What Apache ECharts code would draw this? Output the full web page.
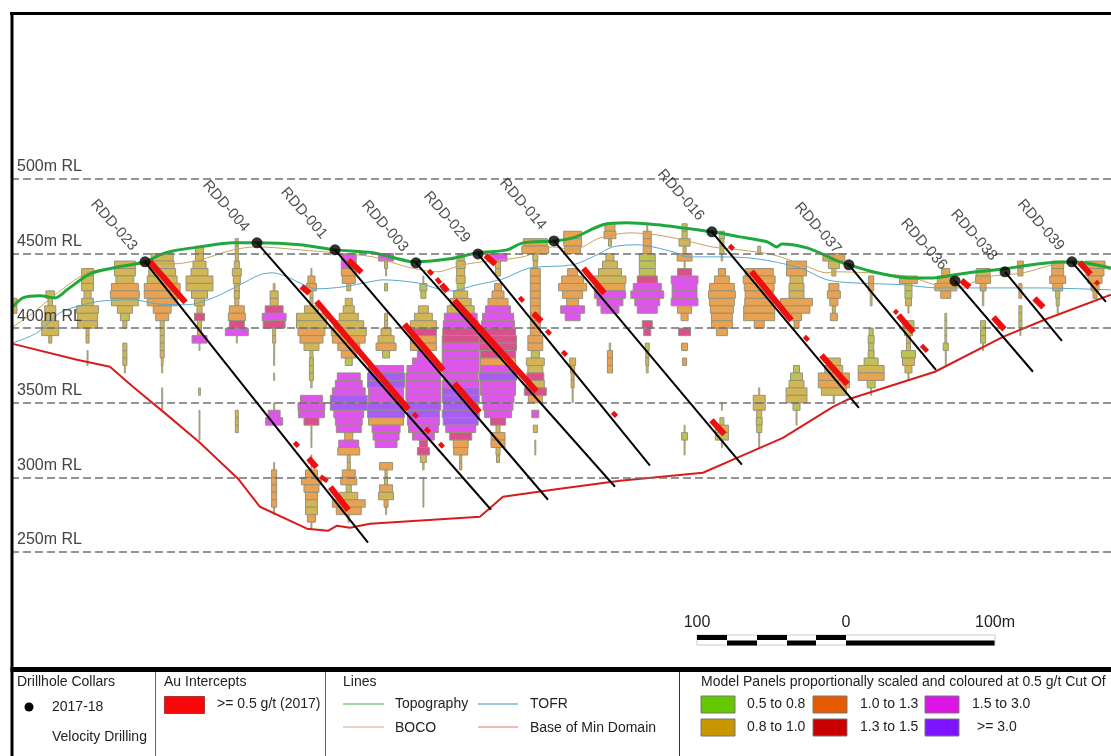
<!DOCTYPE html>
<html><head><meta charset="utf-8"><style>html,body{margin:0;background:#fff}#c{width:1111px;height:756px}</style>
<script src="https://cdn.jsdelivr.net/npm/echarts@6/dist/echarts.min.js"></script></head><body><div id="c"></div>
<script>
const rlLevels=[500,450,400,350,300,250];
const holeNames=['RDD-023','RDD-004','RDD-001','RDD-003','RDD-029','RDD-014','RDD-016','RDD-037','RDD-036','RDD-038','RDD-039'];
const holeCollars=[[88.5,444.5],[163.5,457.2],[215.8,452.5],[270,443.8],[311.6,449.8],[362.5,458.5],[468.3,464.6],[560.1,442.5],[631.2,431.7],[664.7,437.8],[709.5,444.5]];
const holeEnds=[[237.9,256.2],[320.3,278.3],[358.5,285],[403.4,293.7],[426.8,307.8],[488.4,308.5],[566.8,346.6],[618.4,372.1],[683.4,370.8],[702.8,391.5],[732.3,417.7]];
const intercepts=[[90.5,443.8,114.6,416.3],[192.3,427,197.7,422.4],[202.4,417,264,344.6],[267.3,341.9,270,339.3],[275.4,331.9,278.1,329.2],[284.8,321.9,287.4,319.2],[187.6,322.5,190.3,319.8],[197,311.8,202.4,305.8],[205,299.7,209.7,296.4],[211.7,292.4,223.8,277],[223.8,444.5,232.5,436.4],[261.3,401.6,287.4,370.8],[294.8,362,311.6,342.6],[277.4,437.8,280.1,435.1],[282.8,432.4,285.4,429],[286.1,428.4,290.1,423.7],[294.8,417.7,349.8,356.7],[315.6,447.8,322.3,441.8],[338.4,419.7,341,417],[347.7,408.9,353.1,403.6],[356.5,397.6,359.1,394.9],[367.2,383.5,369.9,380.8],[400.7,342.6,403.4,339.9],[381.2,439.1,395.3,422.4],[467,337.3,475.7,327.9],[479.1,454.5,481.7,451.8],[493.8,437.1,520.6,404.3],[529.3,393.5,532,390.9],[540.7,380.8,558.1,361.4],[589.6,410.9,591.6,408.9],[592.3,407.6,602.3,396.2],[607.7,387.5,611.7,383.5],[634.5,431.1,639.9,426.4],[655.9,406.3,663.3,398.2],[683.4,419,689.4,413],[713.6,443.1,721,435.1],[724.3,430.4,726.3,428.4]];
const topography=[[0,414.3],[6.7,420.3],[18.1,421.7],[28.2,420.3],[36.2,425.7],[51.6,436.4],[67,440.4],[88.5,444.5],[98.5,449.2],[107.2,451.8],[125.3,454.5],[147.4,457.2],[163.5,457.2],[192.3,455.9],[215.8,452.5],[241.2,450.5],[264,445.1],[270,444.5],[292.8,446.5],[311.6,450.5],[331,452.5],[341.7,457.2],[362.5,458.5],[375.2,460.5],[395.3,469.3],[411.4,470.6],[431.5,469.3],[448.9,467.2],[468.3,464.6],[487.1,461.2],[505.2,457.9],[511.9,454.5],[515.2,456.5],[532,453.8],[554.1,444.5],[560.1,442.5],[576.2,437.8],[601,433.7],[616.4,433.7],[631.2,435.8],[645.9,437.8],[664.7,439.8],[686.1,443.1],[709.5,444.5],[735.7,440.4]];
const boco=[[0,400.9],[13.4,410.3],[28.2,422.4],[49.6,437.1],[67,440.4],[88.5,443.1],[107.2,443.1],[125.3,445.8],[147.4,452.5],[163.5,454.5],[192.3,452.5],[215.8,450.5],[241.2,447.8],[264,441.1],[284.1,437.8],[301.5,442.5],[319.6,445.1],[341.7,447.8],[361.8,454.5],[375.2,452.5],[393.3,460.5],[413.4,463.9],[431.5,462.5],[448.9,459.2],[468.3,454.5],[487.1,452.5],[509.2,449.2],[529.3,442.5],[545.4,437.1],[549.4,437.8],[574.2,437.1],[601,434.4],[617.8,429.1],[629.8,427.7],[639.2,429.1],[652.6,434.4],[676.7,437.1],[696.8,442.5],[709.5,443.8],[735.7,439.1]];
const tofr=[[0,390.2],[16.1,396.9],[31.5,410.3],[47,415.7],[60.3,418.3],[80.4,419],[96.5,416.3],[116.6,415.7],[134,420.3],[152.1,429.1],[165.5,435.8],[174.2,437.1],[183.6,434.4],[203.7,426.4],[221.1,427.7],[239.2,431.1],[247.9,432.4],[270.7,430.4],[292.8,425],[310.9,429.1],[328.3,433.1],[346.4,440.4],[375.2,442.5],[391.3,449.2],[402,454.5],[418.1,455.9],[442.2,451.2],[451.6,447.8],[473.7,447.8],[498.5,446.5],[527.3,440.4],[545.4,432.4],[562.8,430.4],[596.3,429.1],[619.1,427],[686.1,427],[735.7,425.7]];
const baseOfMin=[[0,389.5],[42.9,378.8],[65,374.1],[80.4,360.7],[103.2,341.9],[125.3,323.2],[150.8,299.1],[165.5,280.3],[197,265.6],[211.1,264.2],[217.1,267.6],[225.8,266.2],[239.2,268.9],[312.9,273.6],[328.3,287],[366.5,292.4],[406.7,297.7],[462.3,303.1],[485.1,313.1],[515.9,326.5],[549.4,347.3],[558.8,352],[617.8,370.8],[663.3,394.2],[692.8,406.3],[735.7,422.4]];
// Each column: stacks of [top RL, panel widths (m), grade letters]; every panel spans 5 m
const c000=[[420,[5.4,5.4],'gg']];
const c025=[[425,[5.8,3,7.4,7.4,11.4,11.4,2],'ggggggg']];
const c050=[[440,[8,8,8,4.7,8,14.7,13.4,13.4,2,2],'gggggggggg'],[385,[.7,.7],'gg']];
const c075=[[445,[14,14,12,18,19.4,18,10,6,2.7],'gggoogglg'],[390,[2.7,2.7,2.7,.7],'gggg']];
const c100=[[450,[14.7,16,18,20,24,24,20,12,8.7,2.7,2.7,2.7,2.7,2.7,1.3,.7],'ggggoooooggggggg'],[360,[.7,.7,.7],'ggg']];
const c125=[[455,[5.4,5.4,8.7,11.4,18,18,10.7,6.7,3.4,6.7,2.7,2.7,10,.7],'gggggggggpgomg'],[360,[1.3],'g'],[345,[.7,.7,.7,.7],'gggg']];
const c150=[[460,[2,2,2,3.4,6,4.7,3.4,3.4,2.7,10,11.4,10,15.4,.7],'gggggggggoopmg'],[345,[2,2,2],'ggg']];
const c175=[[430,[1.3,5.4,5.4,12,16,14.7,2,2,.7,.7,.7],'gggpmpggggg'],[370,[.7],'g'],[350,[.7,8,11.4],'gmm'],[310,[.7,3.4,3.4,3.4,3.4,3.4,.7],'ooooooo']];
const c200=[[440,[.7,4.7,6.7,2,2,9.4,20,20,18,15.4,10,2,2.7,2.7,2.7,1],'ooogggggooggllll'],[355,[14.7,18,17.4,10,.7,.7,.7],'mmmpggg'],[315,[.7,.7],'gg'],[305,[8,13.4,10,8,8,8,5.4,.7],'ooooggoo']];
const c225=[[450,[10,10,10,8.7,2.7],'mmoog'],[420,[4.7,7.4,12.7,20,23.4,22,14.7,10,4.7],'gggggoool'],[370,[15.4,18,22,24.8,24.8,20,18,16.7,5.4,13.4,14.7,2,2],'mmmvvmmmomogg'],[305,[8.7,10.7,3.4,12,22,16.7,1],'oolgoog']];
const c250=[[450,[10,2,.7],'mgg'],[430,[2],'l'],[410,[2,2,6.7,10.7,13.4,4.7],'ggggol'],[375,[23.4,24.8,24.8,23.4,23.4,24.8,24.8,23.4,18.8,17.4,14.7],'mvvmmvvommm'],[310,[8.7,1.5,2,8.7,10,2.7,.7],'oglogog']];
const c275=[[435,[.7,4.7,3.4],'gll'],[415,[6.7,12,17.4,17.4,17.4,17.4,8,14.7,22,23.4,23.4,23.4,23.4,23.4,21.4,21.4,20,14.7,5.4,8,4,1],'gggpoommmmmmmvvmmmppgg'],[300,[.7,.7,.7,.7],'gggg']];
const c300=[[450,[4.7,6,5.4,6,4.7,9.4,14,18,22,23.4,24,24.8,24.8,24.8,24.8,24.8,23.4,24.8,24.8,24.8,23.4,24.8,23.4,20,14.7,10,9.4,1.5,1.5],'gggglgggmmppmmmmmmvvvvvmpoogg']];
const c325=[[450,[12,3.4,3.4],'mgg'],[430,[4.7,8,13.4,16.7,20.8,22,23.4,24.8,24.8,23.4,23.4,23.4,24.8,23.4,23.4,21.4,20,18,10,2.7,9.4,9.4,2.7,2],'ooommmppppomvmmmmmpgoogg']];
const c350=[[460,[16,18,3.4,2.7,6.7,6.7,6.7,6.7,6.7,6.7,6.7,6.7,6.7,10,10,5.4,12,10,11.4,12,14.7,9.4],'ooggooooooooooolggpgpo'],[345,[4.7],'m'],[335,[2.7],'g'],[325,[.7,.7],'gg']];
const c375=[[465,[12,12,10.7],'ooo'],[440,[6.7,14.7,18.8,13.4,8,16,10],'ooooomm'],[380,[4,2.7,2,2,.7,.7],'gooogg']];
const c400=[[470,[6.7,8,2],'oog'],[450,[5.4,10,15.4,21.4,20,20.8,17.4,12],'ggggommm'],[390,[1,3.4,3.4,3.4],'gooo']];
const c425=[[470,[.7,5.4,5.4,5.4,10.7,10.7,10.7,13.4,18.8,22,16.7,13.4],'gooolllpmmmm'],[405,[6.7,4.7],'pp'],[390,[2.7,2,2,1.3],'llgg']];
const c450=[[470,[3.4,3.4,7.4,2,10,.7,9.4,18,16.7,16.7,18,9.4,4.7],'llggogpmmmmoo'],[400,[8],'p'],[390,[4],'o'],[380,[2.7],'o'],[335,[.7,4,.7,.7],'glgg']];
const c475=[[465,[3.4,2.7,2.7,1],'lllg'],[440,[4.7,10,16.7,18,16.7,15.4,14,14,7.4],'ooooooooo'],[350,[.7],'g'],[340,[2.7,8.7,8.7,.7],'lglg']];
const c500=[[455,[2],'l'],[440,[18.8,21.4,20,18.8,19.4,20.8,20.8,6.7],'oooooooo'],[360,[.7,8,8,3.4,4,3.4,.7,.7],'ggggllgg']];
const c525=[[445,[13.4,13.4,8.7,10,10,21.4,18,6.7,3.4],'oogggoooo'],[375,[4,8,10,14,14,4.7,.7,.7],'llggglgg']];
const c550=[[450,[14.7,7.4,2.7],'ogg'],[430,[6.7,8.7,5.4,2,4.7],'ooogo'],[380,[8.7,12,20.8,20.8,16.7,1],'ggoogg']];
const c575=[[435,[3.4,3.4,1.3,1.3],'oogg'],[400,[2.7,4,3.4,4,9.4,17.4,17.4,5.4,.7],'lllllgolg']];
const c600=[[435,[12,4.7,4.7,4,.7],'ollgg'],[405,[7.4,5.4,2.7,2.7,9.4,8,4.7,.7],'llgglggg']];
const c625=[[440,[5.4,11.4,14.7,6.7],'oooo'],[410,[1.3,1.3,1.3,1.3,3.4,.7,.7],'llllllg']];
const c650=[[440,[9.4,10,4,1,1],'gooog'],[405,[3.4,3.4,3.4,.7],'lllg']];
const c675=[[445,[4,3.4],'oo'],[430,[2,2],'oo'],[415,[2,2,2,.7],'lllg']];
const c700=[[445,[8,8,10.7,6.7,2.7,2,.7],'oooollg']];
const c725=[[445,[13.4,12,9.4,5.4,2.7],'ooooo']];
const sectionX=[0,25,50,75,100,125,150,175,200,225,250,275,300,325,350,375,400,425,450,475,500,525,550,575,600,625,650,675,700,725];
const columnPanels=[c000,c025,c050,c075,c100,c125,c150,c175,c200,c225,c250,c275,c300,c325,c350,c375,c400,c425,c450,c475,c500,c525,c550,c575,c600,c625,c650,c675,c700,c725];
const gradeColours={g:'#d2b656',o:'#e8a252',l:'#bdc256',m:'#de54ec',v:'#a75cf6',p:'#d9508c'};

const panelRows=[];
columnPanels.forEach((stacks,i)=>stacks.forEach(([top,widths,grades])=>widths.forEach((w,j)=>{
  panelRows.push([sectionX[i],top-5*j,w,grades[Math.min(j,grades.length-1)]]);
})));
const holeRows=holeCollars.map((c,i)=>[c[0],c[1],holeEnds[i][0],holeEnds[i][1]]);
const chart=echarts.init(document.getElementById('c'),null,{renderer:'canvas'});
function segment(color,w,shift){return (p,api)=>{
  const a=api.coord([api.value(0),api.value(1)]),b=api.coord([api.value(2),api.value(3)]);
  const len=Math.hypot(a[0]-b[0],a[1]-b[1]);
  return {type:'line',x:shift,y:-shift,shape:{x1:a[0],y1:a[1],x2:b[0],y2:b[1]},style:{stroke:color,lineWidth:w(len),lineCap:'butt'},silent:true};
}}
const FONT='"Liberation Sans",Arial,sans-serif';
const tx=(x,y,t,s,al)=>({type:'text',x,y,silent:true,z:30,style:{text:t,font:(s||14)+'px '+FONT,fill:'#222',align:al||'left',verticalAlign:'middle'}});
const rc=(x,y,w,h,f,st)=>({type:'rect',silent:true,z:30,shape:{x,y,width:w,height:h},style:{fill:f,stroke:st||null,lineWidth:st?1:0}});
const ln=(x1,y1,x2,y2,c,w)=>({type:'line',silent:true,z:30,shape:{x1,y1,x2,y2},style:{stroke:c,lineWidth:w||1}});
const circ=(x,y,r)=>({type:'circle',silent:true,z:30,shape:{cx:x,cy:y,r},style:{fill:'#000'}});
const graphics=[
  rc(0,668,1111,88,'#fff'),
  rc(10,12,1101,3,'#000'),rc(10.5,12,3,744,'#000'),rc(10.5,667,1101,5,'#000'),
  ln(155.5,672,155.5,756,'#666',1),ln(325.5,672,325.5,756,'#666',1),ln(679.5,672,679.5,756,'#333',1),
  tx(17,682,'Drillhole Collars'),circ(29,707,4.5),tx(52,707,'2017-18'),tx(52,737,'Velocity Drilling'),
  tx(164,682,'Au Intercepts'),rc(164.5,696.5,40,17,'#f80808','#a33'),tx(217,704,'>= 0.5 g/t (2017)'),
  tx(343,682,'Lines'),ln(343,704,384,704,'#4aa84a'),tx(395,704,'Topography'),ln(478,704,518,704,'#3f8fb8'),tx(530,704,'TOFR'),
  ln(343,727,384,727,'#d8a888'),tx(395,728,'BOCO'),ln(478,727,518,727,'#d87878'),tx(530,728,'Base of Min Domain'),
  tx(701,682,'Model Panels proportionally scaled and coloured at 0.5 g/t Cut Of'),
  rc(701,696,34,17,'#64c800','#777'),tx(747,704,'0.5 to 0.8'),rc(813,696,34,17,'#e65a00','#777'),tx(860,704,'1.0 to 1.3'),rc(925,696,34,17,'#dc14e6','#777'),tx(972,704,'1.5 to 3.0'),
  rc(701,719,34,17,'#c89600','#777'),tx(747,727,'0.8 to 1.0'),rc(813,719,34,17,'#c80000','#777'),tx(860,727,'1.3 to 1.5'),rc(925,719,34,17,'#7d14ff','#777'),tx(977,727,'>= 3.0'),
  rc(697,635,298,10,'#fff','#ccc'),rc(697,635,30,5,'#000'),rc(727,640.5,30,5,'#000'),rc(757,635,30,5,'#000'),rc(787,640.5,29,5,'#000'),rc(816,635,30,5,'#000'),rc(846,640.5,148.5,5,'#000'),
  tx(697,623,'100',16,'center'),tx(846,623,'0',16,'center'),tx(995,623,'100m',16,'center')
];
chart.setOption({
  animation:false,backgroundColor:'#fff',
  grid:{left:11,top:14,width:1100,height:653,containLabel:false},
  xAxis:{type:'value',min:-1.3,max:735.7,show:false},
  yAxis:{type:'value',min:172.9,max:610.6,show:false},
  series:[
    {type:'custom',name:'Model Panels',data:panelRows,z:2,clip:true,encode:{x:0,y:1},silent:true,
      renderItem:(p,api)=>{
        const x=api.value(0),t=api.value(1),w=api.value(2),g=panelRows[p.dataIndex][3];
        const a=api.coord([x,t]),b=api.coord([x,t-5]),pw=api.size([w,0])[0];
        return {type:'rect',shape:{x:a[0]-pw/2,y:a[1],width:pw,height:b[1]-a[1]},style:{fill:gradeColours[g],stroke:'#96927a',lineWidth:pw<2?0.8:1}};
      }},
    {type:'line',name:'RL',data:[],z:3,silent:true,markLine:{silent:true,symbol:'none',animation:false,
      lineStyle:{type:[8,4],color:'#707070',width:1.5},
      label:{position:'insideStartTop',distance:[6,4],formatter:v=>v.value+'m RL',fontFamily:FONT,fontSize:16,color:'#444'},
      data:rlLevels.map(v=>({yAxis:v}))}},
    {type:'line',name:'TOFR',data:tofr,smooth:0.3,symbol:'none',z:4,silent:true,lineStyle:{color:'#5aa8cc',width:1}},
    {type:'line',name:'BOCO',data:boco,smooth:0.3,symbol:'none',z:4,silent:true,lineStyle:{color:'#c8a25c',width:1}},
    {type:'line',name:'Base of Min Domain',data:baseOfMin,symbol:'none',z:4,silent:true,lineStyle:{color:'#d81c1c',width:2}},
    {type:'line',name:'Topography',data:topography,smooth:0.3,symbol:'none',z:4,silent:true,lineStyle:{color:'#1fa83c',width:3}},
    {type:'custom',name:'Holes',data:holeRows,z:5,silent:true,encode:{x:[0,2],y:[1,3]},renderItem:segment('#000',()=>2,0)},
    {type:'custom',name:'Au Intercepts',data:intercepts,z:6,silent:true,encode:{x:[0,2],y:[1,3]},renderItem:segment('#ee1010',l=>l>9?6:4.5,1.5)},
    {type:'scatter',name:'Drillhole Collars',z:7,silent:true,symbolSize:11,itemStyle:{color:'#000'},
      data:holeCollars.map((c,i)=>({value:c,name:holeNames[i]})),
      label:{show:true,position:'left',offset:[-10,-8.5],rotate:-49,formatter:'{b}',fontFamily:FONT,fontSize:15,color:'#222'}}
  ],
  graphic:graphics
});
</script></body></html>
